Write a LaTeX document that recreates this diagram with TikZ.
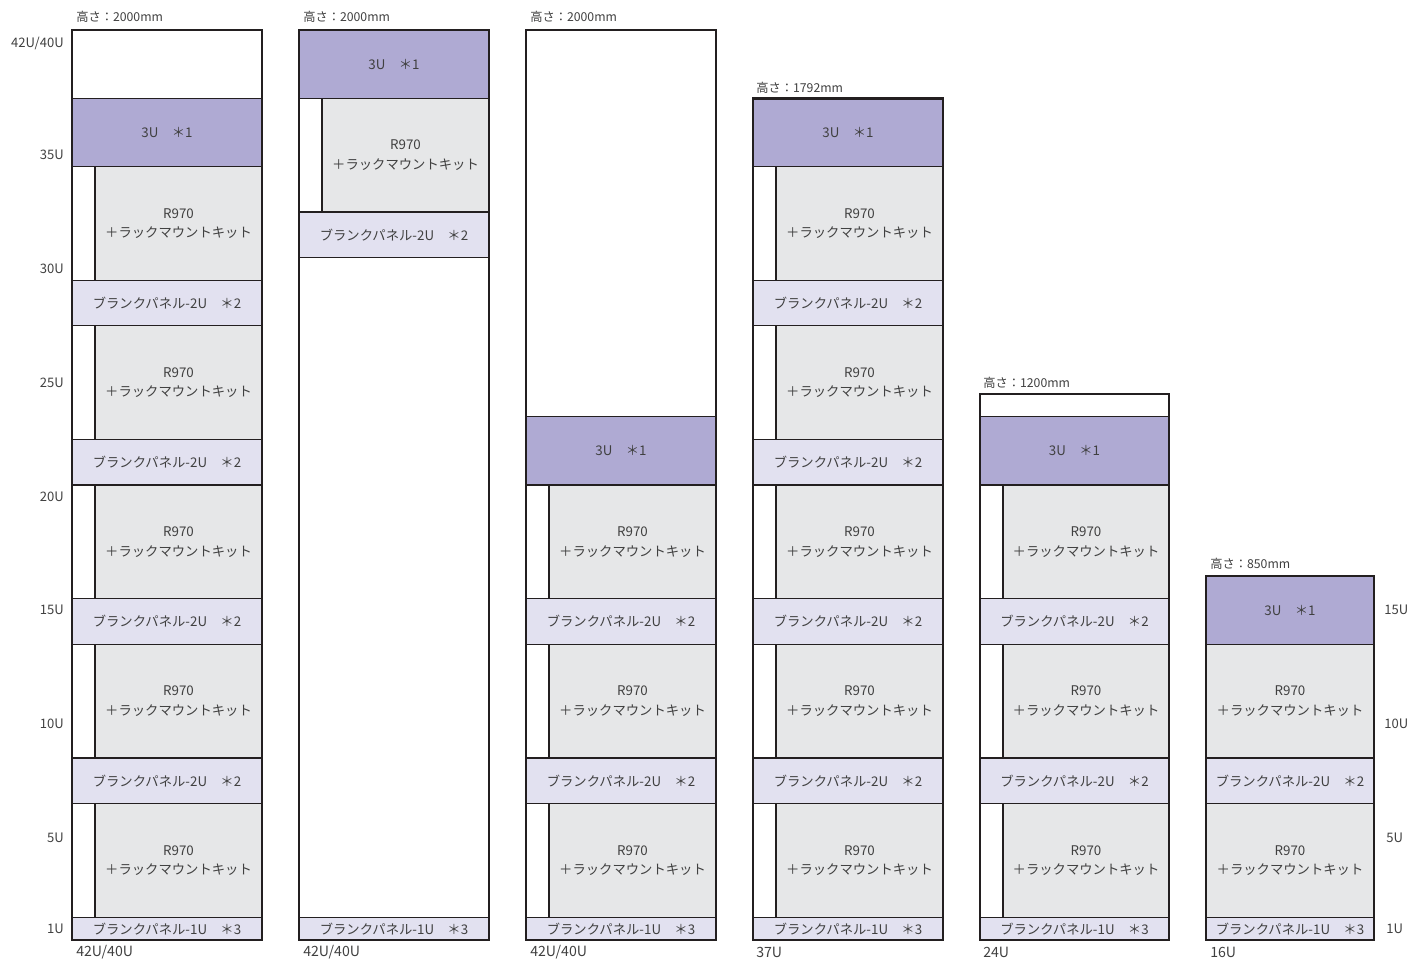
\documentclass[tikz,border=0pt]{standalone}
\usepackage{fontspec}
\setmainfont{Noto Sans CJK JP}
\definecolor{purp}{HTML}{AFAAD3}
\definecolor{blank}{HTML}{E2E1F0}
\definecolor{srv}{HTML}{E6E7E8}
\definecolor{edge}{HTML}{231F20}
\definecolor{txt}{HTML}{404040}
\tikzset{
  base/.style={inner sep=0pt, outer sep=0pt, align=center, text=txt, font=\fontsize{10}{14.6}\selectfont},
  topu/.style={base, draw=edge, line width=1.1pt, fill=purp},
  bp/.style={base, draw=edge, line width=1.1pt, fill=blank},
  sv/.style={base, draw=edge, line width=1.1pt, fill=srv},
  frame/.style={inner sep=0pt, outer sep=0pt, draw=edge, line width=2.2pt},
  lbl/.style={inner sep=0pt, text=txt, font=\fontsize{9.8}{11}\selectfont},
  blbl/.style={inner sep=0pt, text=txt, font=\fontsize{10.6}{12}\selectfont, anchor=west},
  hlbl/.style={inner sep=0pt, text=txt, font=\fontsize{9.2}{10}\selectfont, anchor=west},
}
\newcommand\blk[7]{%
  \node[#6, anchor=south west, minimum width={(#3-#2)*0.75pt}, minimum height={(#5-#4)*22.75*0.75pt}] (#1) at (#2,{940-22.75*#4}) {#7};}
\newcommand\rackframe[4]{%
  \node[frame, anchor=south west, minimum width={(#3-#2)*0.75pt}, minimum height={#4*22.75*0.75pt}] (#1) at (#2,940) {};}
\def\tu{3U\quad ＊1}
\def\bpt{ブランクパネル-2U\quad ＊2}
\def\bpo{ブランクパネル-1U\quad ＊3}
\def\svt{R970\\＋ラックマウントキット}
\begin{document}
\begin{tikzpicture}[x=0.75pt,y=-0.75pt]
\useasboundingbox (0,0) rectangle (1409,960);
% ---------- rack 1 ----------
\blk{a1}{72}{262}{0}{1}{bp}{\bpo}
\blk{a2}{95}{262}{1}{6}{sv}{\svt}
\blk{a3}{72}{262}{6}{8}{bp}{\bpt}
\blk{a4}{95}{262}{8}{13}{sv}{\svt}
\blk{a5}{72}{262}{13}{15}{bp}{\bpt}
\blk{a6}{95}{262}{15}{20}{sv}{\svt}
\blk{a7}{72}{262}{20}{22}{bp}{\bpt}
\blk{a8}{95}{262}{22}{27}{sv}{\svt}
\blk{a9}{72}{262}{27}{29}{bp}{\bpt}
\blk{a10}{95}{262}{29}{34}{sv}{\svt}
\blk{a11}{72}{262}{34}{37}{topu}{\tu}
\rackframe{ra}{72}{262}{40}
% ---------- rack 2 ----------
\blk{b1}{299}{489}{0}{1}{bp}{\bpo}
\blk{b2}{299}{489}{30}{32}{bp}{\bpt}
\blk{b3}{322}{489}{32}{37}{sv}{\svt}
\blk{b4}{299}{489}{37}{40}{topu}{\tu}
\rackframe{rb}{299}{489}{40}
% ---------- rack 3 ----------
\blk{c1}{526}{716}{0}{1}{bp}{\bpo}
\blk{c2}{549}{716}{1}{6}{sv}{\svt}
\blk{c3}{526}{716}{6}{8}{bp}{\bpt}
\blk{c4}{549}{716}{8}{13}{sv}{\svt}
\blk{c5}{526}{716}{13}{15}{bp}{\bpt}
\blk{c6}{549}{716}{15}{20}{sv}{\svt}
\blk{c7}{526}{716}{20}{23}{topu}{\tu}
\rackframe{rc}{526}{716}{40}
% ---------- rack 4 ----------
\blk{d1}{753}{943}{0}{1}{bp}{\bpo}
\blk{d2}{776}{943}{1}{6}{sv}{\svt}
\blk{d3}{753}{943}{6}{8}{bp}{\bpt}
\blk{d4}{776}{943}{8}{13}{sv}{\svt}
\blk{d5}{753}{943}{13}{15}{bp}{\bpt}
\blk{d6}{776}{943}{15}{20}{sv}{\svt}
\blk{d7}{753}{943}{20}{22}{bp}{\bpt}
\blk{d8}{776}{943}{22}{27}{sv}{\svt}
\blk{d9}{753}{943}{27}{29}{bp}{\bpt}
\blk{d10}{776}{943}{29}{34}{sv}{\svt}
\blk{d11}{753}{943}{34}{37}{topu}{\tu}
\rackframe{rd}{753}{943}{37}
% ---------- rack 5 ----------
\blk{e1}{980}{1169}{0}{1}{bp}{\bpo}
\blk{e2}{1003}{1169}{1}{6}{sv}{\svt}
\blk{e3}{980}{1169}{6}{8}{bp}{\bpt}
\blk{e4}{1003}{1169}{8}{13}{sv}{\svt}
\blk{e5}{980}{1169}{13}{15}{bp}{\bpt}
\blk{e6}{1003}{1169}{15}{20}{sv}{\svt}
\blk{e7}{980}{1169}{20}{23}{topu}{\tu}
\rackframe{re}{980}{1169}{24}
% ---------- rack 6 ----------
\blk{f1}{1206}{1374}{0}{1}{bp}{\bpo}
\blk{f2}{1206}{1374}{1}{6}{sv}{\svt}
\blk{f3}{1206}{1374}{6}{8}{bp}{\bpt}
\blk{f4}{1206}{1374}{8}{13}{sv}{\svt}
\blk{f5}{1206}{1374}{13}{16}{topu}{\tu}
\rackframe{rf}{1206}{1374}{16}
% ---------- height labels ----------
\node[hlbl] (ha) at (76,17) {高さ：2000mm};
\node[hlbl] (hb) at (303,17) {高さ：2000mm};
\node[hlbl] (hc) at (530,17) {高さ：2000mm};
\node[hlbl] (hd) at (756,88) {高さ：1792mm};
\node[hlbl] (he) at (983,383) {高さ：1200mm};
\node[hlbl] (hf) at (1210,564) {高さ：850mm};
% ---------- bottom labels ----------
\node[blbl] (ba) at (76,952) {42U/40U};
\node[blbl] (bb) at (303,952) {42U/40U};
\node[blbl] (bc) at (530,952) {42U/40U};
\node[blbl] (bd) at (756,952) {37U};
\node[blbl] (be) at (983,952) {24U};
\node[blbl] (bf) at (1210,952) {16U};
% ---------- left scale ----------
\node[lbl, anchor=east] (l40) at (64,{940-22.75*39.4}) {42U/40U};
\node[lbl, anchor=east] (l35) at (64,{940-22.75*34.5}) {35U};
\node[lbl, anchor=east] (l30) at (64,{940-22.75*29.5}) {30U};
\node[lbl, anchor=east] (l25) at (64,{940-22.75*24.5}) {25U};
\node[lbl, anchor=east] (l20) at (64,{940-22.75*19.5}) {20U};
\node[lbl, anchor=east] (l15) at (64,{940-22.75*14.5}) {15U};
\node[lbl, anchor=east] (l10) at (64,{940-22.75*9.5}) {10U};
\node[lbl, anchor=east] (l5) at (64,{940-22.75*4.5}) {5U};
\node[lbl, anchor=east] (l1) at (64,{940-22.75*0.5}) {1U};
% ---------- right scale ----------
\node[lbl, anchor=west] (r15) at (1384,{940-22.75*14.5}) {15U};
\node[lbl, anchor=west] (r10) at (1384,{940-22.75*9.5}) {10U};
\node[lbl, anchor=west] (r5) at (1386,{940-22.75*4.5}) {5U};
\node[lbl, anchor=west] (r1) at (1386,{940-22.75*0.5}) {1U};
\end{tikzpicture}
\end{document}
